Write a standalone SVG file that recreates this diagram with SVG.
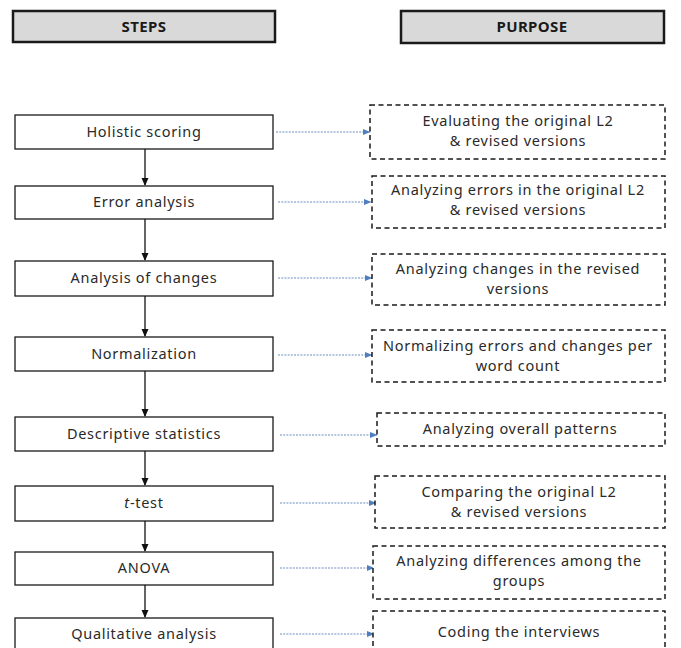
<svg xmlns="http://www.w3.org/2000/svg" width="681" height="648" viewBox="0 0 681 648">
<defs>
<style>
.hdr{fill:#d9d9d9;stroke:#1a1a1a;stroke-width:2.5}
.ht{font-family:"Noto Sans","Liberation Sans",sans-serif;font-size:15px;font-weight:bold;fill:#1a1a1a;text-anchor:middle;letter-spacing:0.4px}
.step{fill:#fff;stroke:#1a1a1a;stroke-width:1.3}
.pur{fill:#fff;stroke:#1a1a1a;stroke-width:1.5;stroke-dasharray:5,3.5}
.t{font-family:"Noto Sans","Liberation Sans",sans-serif;font-size:14.5px;fill:#2a2a2a;text-anchor:middle;letter-spacing:0.7px}
.v{stroke:#111;stroke-width:1.3;fill:none}
.d{stroke:#6a8fc4;stroke-width:1.2;stroke-dasharray:2,1.2;fill:none}
</style>
<marker id="ab" markerWidth="8" markerHeight="8" refX="7" refY="4" orient="auto" markerUnits="userSpaceOnUse"><path d="M0,0.5 L8,4 L0,7.5 Z" fill="#111"/></marker>
<marker id="ad" markerWidth="8" markerHeight="8" refX="7" refY="4" orient="auto" markerUnits="userSpaceOnUse"><path d="M0,1 L7.5,4 L0,7 Z" fill="#4f7fbf"/></marker>
</defs>
<rect width="681" height="648" fill="#fff"/>
<g id="header-steps"><rect class="hdr" x="13" y="11" width="262" height="31"/><text class="ht" x="144" y="32">STEPS</text></g>
<g id="header-purpose"><rect class="hdr" x="401" y="11" width="263" height="32"/><text class="ht" x="532" y="32">PURPOSE</text></g>

<g id="connectors">
<line class="v" x1="145" y1="149" x2="145" y2="185" marker-end="url(#ab)"/>
<line class="v" x1="145" y1="219" x2="145" y2="260" marker-end="url(#ab)"/>
<line class="v" x1="145" y1="296" x2="145" y2="336" marker-end="url(#ab)"/>
<line class="v" x1="145" y1="371" x2="145" y2="416" marker-end="url(#ab)"/>
<line class="v" x1="145" y1="451" x2="145" y2="485" marker-end="url(#ab)"/>
<line class="v" x1="145" y1="521" x2="145" y2="551" marker-end="url(#ab)"/>
<line class="v" x1="145" y1="585" x2="145" y2="617" marker-end="url(#ab)"/>
<line class="d" x1="276" y1="132" x2="370" y2="132" marker-end="url(#ad)"/>
<line class="d" x1="278" y1="202" x2="371" y2="202" marker-end="url(#ad)"/>
<line class="d" x1="278" y1="278" x2="372" y2="278" marker-end="url(#ad)"/>
<line class="d" x1="278" y1="355" x2="372" y2="355" marker-end="url(#ad)"/>
<line class="d" x1="280" y1="435" x2="377" y2="435" marker-end="url(#ad)"/>
<line class="d" x1="280" y1="503" x2="376" y2="503" marker-end="url(#ad)"/>
<line class="d" x1="280" y1="568" x2="374" y2="568" marker-end="url(#ad)"/>
<line class="d" x1="280" y1="634" x2="374" y2="634" marker-end="url(#ad)"/>
</g>

<g id="s1"><rect class="step" x="15" y="115" width="258" height="34"/><text class="t" x="144" y="137">Holistic scoring</text></g>
<g id="s2"><rect class="step" x="15" y="186" width="258" height="33"/><text class="t" x="144" y="207">Error analysis</text></g>
<g id="s3"><rect class="step" x="15" y="261" width="258" height="35"/><text class="t" x="144" y="283">Analysis of changes</text></g>
<g id="s4"><rect class="step" x="15" y="337" width="258" height="34"/><text class="t" x="144" y="359">Normalization</text></g>
<g id="s5"><rect class="step" x="15" y="417" width="258" height="34"/><text class="t" x="144" y="439">Descriptive statistics</text></g>
<g id="s6"><rect class="step" x="15" y="486" width="258" height="35"/><text class="t" x="144" y="508"><tspan font-style="italic">t</tspan>-test</text></g>
<g id="s7"><rect class="step" x="15" y="552" width="258" height="33"/><text class="t" x="144" y="573">ANOVA</text></g>
<g id="s8"><rect class="step" x="15" y="618" width="258" height="36"/><text class="t" x="144" y="639">Qualitative analysis</text></g>

<g id="p1"><rect class="pur" x="370" y="105" width="295" height="54"/><text class="t"><tspan x="518" y="126">Evaluating the original L2</tspan><tspan x="518" y="146">&amp; revised versions</tspan></text></g>
<g id="p2"><rect class="pur" x="372" y="176" width="293" height="52"/><text class="t"><tspan x="518" y="195">Analyzing errors in the original L2</tspan><tspan x="518" y="215">&amp; revised versions</tspan></text></g>
<g id="p3"><rect class="pur" x="372" y="254" width="293" height="51"/><text class="t"><tspan x="518" y="274">Analyzing changes in the revised</tspan><tspan x="518" y="294">versions</tspan></text></g>
<g id="p4"><rect class="pur" x="372" y="330" width="293" height="52"/><text class="t"><tspan x="518" y="351">Normalizing errors and changes per</tspan><tspan x="518" y="371">word count</tspan></text></g>
<g id="p5"><rect class="pur" x="377" y="413" width="288" height="33"/><text class="t" x="520" y="434">Analyzing overall patterns</text></g>
<g id="p6"><rect class="pur" x="375" y="476" width="290" height="52"/><text class="t"><tspan x="519" y="497">Comparing the original L2</tspan><tspan x="519" y="517">&amp; revised versions</tspan></text></g>
<g id="p7"><rect class="pur" x="373" y="546" width="292" height="53"/><text class="t"><tspan x="519" y="566">Analyzing differences among the</tspan><tspan x="519" y="586">groups</tspan></text></g>
<g id="p8"><rect class="pur" x="373" y="611" width="292" height="40"/><text class="t" x="519" y="637">Coding the interviews</text></g>
</svg>
